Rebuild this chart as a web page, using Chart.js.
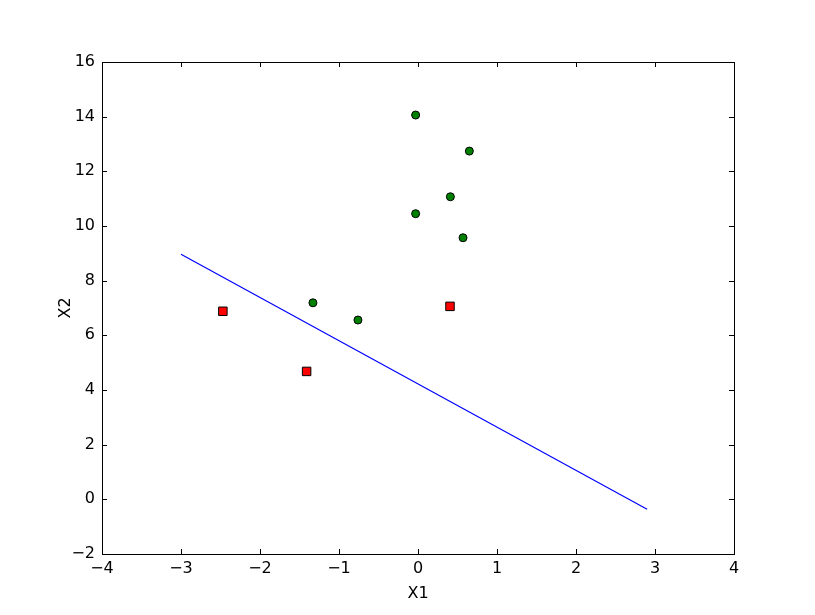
<!DOCTYPE html>
<html>
<head>
<meta charset="utf-8">
<style>
html,body{margin:0;padding:0;background:#ffffff;}
#wrap{width:815px;height:615px;background:#ffffff;}
canvas{display:block;}
</style>
<script src="https://cdn.jsdelivr.net/npm/chart.js@4/dist/chart.umd.min.js"></script>
</head>
<body>
<div id="wrap"><canvas id="c" width="815" height="615"></canvas></div>
<script>
// Data
const positiveX1 = [-0.03, 0.65, 0.41, -0.03, 0.57, -1.33, -0.76];
const positiveX2 = [14.06, 12.74, 11.07, 10.45, 9.57, 7.19, 6.56];
const negativeX1 = [-2.47, -1.41, 0.405];
const negativeX2 = [6.88, 4.68, 7.06];
const boundaryX1 = [-3.0, 2.9];
const boundaryX2 = [8.97, -0.36];
const xTicks = [-4, -3, -2, -1, 0, 1, 2, 3, 4];
const yTicks = [-2, 0, 2, 4, 6, 8, 10, 12, 14, 16];
const xLabel = 'X1';
const yLabel = 'X2';

const toPts = (xs, ys) => xs.map((x, i) => ({x: x, y: ys[i]}));
const fmt = v => String(v).replace('-', '\u2212');
const FONT = {family: '"DejaVu Sans", sans-serif', size: 16};

const framePlugin = {
  id: 'frame',
  beforeDraw(chart) {
    const ctx = chart.ctx;
    ctx.save();
    ctx.fillStyle = '#ffffff';
    ctx.fillRect(0, 0, chart.width, chart.height);
    ctx.restore();
  },
  afterDraw(chart) {
    const ctx = chart.ctx;
    const a = chart.chartArea;
    const xs = chart.scales.x, ys = chart.scales.y;
    ctx.save();
    ctx.strokeStyle = '#000000';
    ctx.lineWidth = 1;
    ctx.beginPath();
    xTicks.forEach(v => {
      const px = Math.round(xs.getPixelForValue(v)) + 0.5;
      ctx.moveTo(px, a.bottom); ctx.lineTo(px, a.bottom - 5);
      ctx.moveTo(px, a.top); ctx.lineTo(px, a.top + 5);
    });
    yTicks.forEach(v => {
      const py = Math.round(ys.getPixelForValue(v)) + 0.5;
      ctx.moveTo(a.left, py); ctx.lineTo(a.left + 5, py);
      ctx.moveTo(a.right, py); ctx.lineTo(a.right - 5, py);
    });
    ctx.stroke();
    ctx.strokeRect(Math.round(a.left) + 0.5, Math.round(a.top) + 0.5,
      Math.round(a.right - a.left), Math.round(a.bottom - a.top));
    ctx.restore();
  }
};

new Chart(document.getElementById('c'), {
  type: 'scatter',
  data: {
    datasets: [
      {
        label: 'positive',
        data: toPts(positiveX1, positiveX2),
        pointStyle: 'circle',
        pointRadius: 4,
        backgroundColor: '#008000',
        borderColor: '#000000',
        borderWidth: 1
      },
      {
        label: 'negative',
        data: toPts(negativeX1, negativeX2),
        pointStyle: 'rect',
        pointRadius: 6,
        backgroundColor: '#ff0000',
        borderColor: '#000000',
        borderWidth: 1
      },
      {
        label: 'boundary',
        type: 'line',
        data: toPts(boundaryX1, boundaryX2),
        showLine: true,
        borderColor: '#0000ff',
        borderWidth: 1.2,
        pointRadius: 0,
        fill: false
      }
    ]
  },
  options: {
    responsive: false,
    animation: false,
    devicePixelRatio: 1,
    layout: {padding: {left: 0, top: 62, right: 81, bottom: 0}},
    plugins: {legend: {display: false}, tooltip: {enabled: false}},
    scales: {
      x: {
        type: 'linear',
        min: -4, max: 4,
        afterBuildTicks: s => { s.ticks = xTicks.map(v => ({value: v})); },
        afterFit: s => { s.height = 61; },
        grid: {display: false, drawTicks: false},
        border: {display: false},
        ticks: {autoSkip: false, maxRotation: 0, padding: 5, color: '#000', font: FONT, callback: v => fmt(v)},
        title: {display: true, text: xLabel, color: '#000', font: FONT, padding: {top: 0, bottom: 12}}
      },
      y: {
        type: 'linear',
        min: -2, max: 16,
        afterBuildTicks: s => { s.ticks = yTicks.map(v => ({value: v})); },
        afterFit: s => { s.width = 102; },
        grid: {display: false, drawTicks: false},
        border: {display: false},
        ticks: {autoSkip: false, padding: 7, color: '#000', font: FONT, callback: v => fmt(v)},
        title: {display: true, text: yLabel, color: '#000', font: FONT, padding: {top: 56, bottom: 0}}
      }
    }
  },
  plugins: [framePlugin]
});
</script>
</body>
</html>
